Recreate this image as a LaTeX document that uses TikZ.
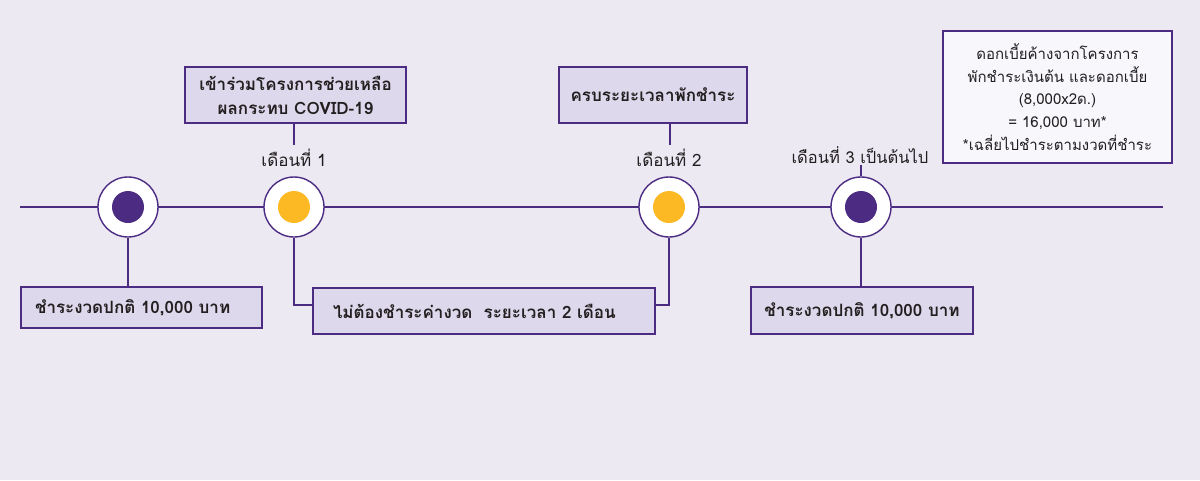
\documentclass[tikz,border=0pt]{standalone}
\usepackage{fontspec}
\newfontfamily\thai[Script=Thai]{Loma}
\definecolor{bg}{HTML}{ECE9F3}
\definecolor{pur}{HTML}{4B2C82}
\definecolor{boxfill}{HTML}{DDD8EB}
\definecolor{notefill}{HTML}{F8F7FC}
\definecolor{yel}{HTML}{FDB924}
\definecolor{txt}{HTML}{231F20}
\tikzset{
  line/.style={draw=pur, line width=1.4pt},
  ring/.style={circle, draw=pur, line width=1.4pt, fill=white, minimum size=60pt, inner sep=0pt},
  dotp/.style={circle, fill=pur, minimum size=32pt, inner sep=0pt},
  doty/.style={circle, fill=yel, minimum size=32pt, inner sep=0pt},
  pbox/.style={draw=pur, line width=1.4pt, fill=boxfill, inner sep=0pt, font=\thai\bfseries\fontsize{17}{24}\selectfont, text=txt},
  nbox/.style={draw=pur, line width=1.4pt, fill=notefill, inner sep=0pt, font=\thai\fontsize{15}{22.75}\selectfont, text=txt, align=center},
  lab/.style={font=\thai\fontsize{17}{20}\selectfont, text=txt, inner sep=1pt},
}
\begin{document}
\begin{tikzpicture}[x=1pt,y=-1pt]
\fill[bg] (0,0) rectangle (1200,480);
\useasboundingbox (0,0) rectangle (1200,480);
% timeline
\coordinate (tl0) at (20,207);
\coordinate (tl1) at (1163,207);
\draw[line] (tl0) -- (tl1);
% circles
\node[ring] (c1) at (128,207) {};
\node[dotp] (d1) at (c1) {};
\node[ring] (c2) at (294,207) {};
\node[doty] (d2) at (c2) {};
\node[ring] (c3) at (669,207) {};
\node[doty] (d3) at (c3) {};
\node[ring] (c4) at (861,207) {};
\node[dotp] (d4) at (c4) {};
% boxes
\node[pbox, minimum width=221pt, minimum height=56pt, align=center] (bA) at (295.5,95) {เข้าร่วมโครงการช่วยเหลือ\\ผลกระทบ COVID-19};
\node[pbox, minimum width=241pt, minimum height=41pt, align=left, text width=213pt] (bB) at (141.5,307.5) {ชำระงวดปกติ 10,000 บาท};
\node[pbox, minimum width=342pt, minimum height=46pt, align=left, text width=302pt] (bC) at (484,311) {ไม่ต้องชำระค่างวด\ \ ระยะเวลา 2 เดือน};
\node[pbox, minimum width=188pt, minimum height=56pt, align=center] (bD) at (653,95) {ครบระยะเวลาพักชำระ};
\node[pbox, minimum width=222pt, minimum height=47pt, align=center] (bE) at (862,310.5) {ชำระงวดปกติ 10,000 บาท};
\node[nbox, minimum width=229pt, minimum height=132pt] (bF) at (1057.5,97) {ดอกเบี้ยค้างจากโครงการ\\พักชำระเงินต้น และดอกเบี้ย\\(8,000x2ด.)\\= 16,000 บาท*\\*เฉลี่ยไปชำระตามงวดที่ชำระ};
% labels
\node[lab] (l1) at (294,158) {เดือนที่ 1};
\node[lab] (l2) at (669,158) {เดือนที่ 2};
\node[lab, font=\thai\fontsize{16.5}{20}\selectfont] (l3) at (860,155) {เดือนที่ 3 เป็นต้นไป};
% connectors
\coordinate (a1) at (294,145);
\coordinate (a2) at (670,145);
\coordinate (a3) at (861,165);
\draw[line] (bA.south -| a1) -- (a1);
\draw[line] (bD.south -| a2) -- (a2);
\draw[line] (a3) -- (c4.north);
\draw[line] (c1.south) -- (c1.south |- bB.north);
\draw[line] (c4.south) -- (c4.south |- bE.north);
\coordinate (k2) at (294,305);
\coordinate (k3) at (669,305);
\draw[line] (c2.south) -- (k2) -- (k2 -| bC.west);
\draw[line] (c3.south) -- (k3) -- (k3 -| bC.east);
\end{tikzpicture}
\end{document}
